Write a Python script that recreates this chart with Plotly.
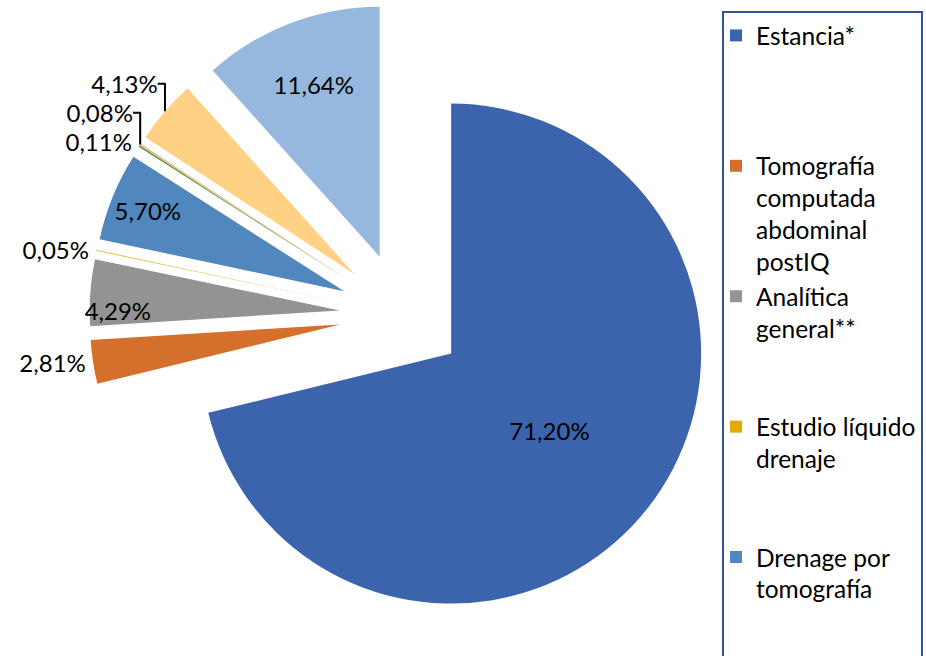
import plotly.graph_objects as go

# Data (percent of total cost)
values = [71.20, 2.81, 4.29, 0.05, 5.70, 0.11, 0.08, 4.13, 11.64]
slice_colors = ["#3C64AD", "#D46F2C", "#939393", "#E3AA00", "#5087BE",
                "#5E9C3A", "#F0A987", "#FFD184", "#97B8DE"]
text_pos = ["inside", "outside", "inside", "outside", "inside",
            "outside", "outside", "outside", "inside"]

legend_names = ["Estancia*",
                "Tomografía computada abdominal postIQ",
                "Analítica general**",
                "Estudio líquido drenaje",
                "Drenage por tomografía"]
legend_values = values[:5]
legend_colors = slice_colors[:5]

NB = "\u00a0"
legend_display = [
    "Estancia*<br>" + NB + "<br>" + NB + "<br>" + NB,
    "Tomografía<br>computada<br>abdominal<br>postIQ",
    "Analítica<br>general**<br>" + NB + "<br>" + NB,
    "Estudio líquido<br>drenaje<br>" + NB + "<br>" + NB,
    "Drenage por<br>tomografía<br>" + NB + "<br>" + NB,
]

labels_text = [f"{v:.2f}".replace(".", ",") + "%" for v in values]

FONT = "Lato"
W, H = 926, 656

fig = go.Figure()

# legend-only carrier (tiny, hidden beneath the main pie)
fig.add_trace(go.Pie(
    labels=legend_display,
    values=legend_values,
    marker=dict(colors=legend_colors, line=dict(width=0)),
    sort=False, direction="clockwise", rotation=0,
    textinfo="none", hoverinfo="skip",
    domain=dict(x=[0.62, 0.624], y=[0.25, 0.254]),
    showlegend=True,
))

fig.add_trace(go.Pie(
    values=values,
    text=labels_text,
    textinfo="text",
    textposition=text_pos,
    insidetextorientation="horizontal",
    textfont=dict(family=FONT, size=24, color="black"),
    marker=dict(colors=slice_colors, line=dict(width=0)),
    pull=[0.25] * len(values),
    sort=False, direction="clockwise", rotation=0,
    domain=dict(x=[89.5 / W, 714.5 / W], y=[1 - 627.5 / H, 1 - 2.5 / H]),
    showlegend=False,
    automargin=False,
))

fig.update_layout(
    width=W, height=H,
    margin=dict(l=0, r=0, t=0, b=0, pad=0, autoexpand=False),
    paper_bgcolor="white", plot_bgcolor="white",
    font=dict(family=FONT, color="black"),
    uniformtext=dict(minsize=24, mode="show"),
    legend=dict(
        x=722 / W, y=1 - 11 / H, xanchor="left", yanchor="top",
        bgcolor="white", bordercolor="#2F5597", borderwidth=2,
        font=dict(family=FONT, size=24.5, color="black"),
        valign="top", traceorder="normal", maxheight=1200,
        indentation=-8,
    ),
)

fig.write_html(
    "out.html",
    config={"displayModeBar": False},
    post_script="document.body.style.margin='0';document.body.style.padding='0';",
)
